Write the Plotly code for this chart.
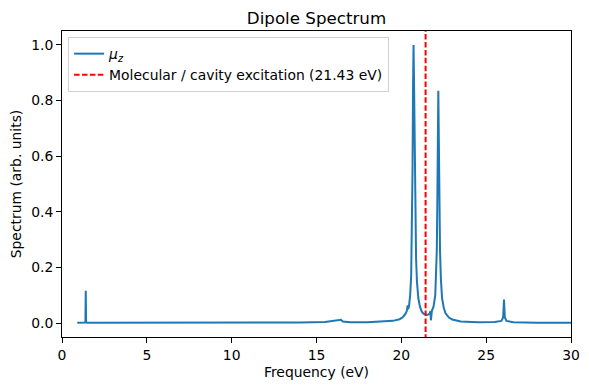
import plotly.graph_objects as go

freq_ev = [0.9, 1.3, 1.38, 1.40, 1.42, 1.5, 5, 10, 14, 15.5, 16.2, 16.44, 16.55, 17, 18, 19,
           19.5, 19.9, 20.1, 20.25, 20.33, 20.37, 20.40, 20.45, 20.52, 20.58, 20.62, 20.66,
           20.69, 20.72, 20.75, 20.78, 20.82, 20.87, 20.92, 21.0, 21.1, 21.2, 21.3, 21.4,
           21.5, 21.6, 21.68, 21.72, 21.74, 21.76, 21.8, 21.9, 22.0, 22.05, 22.09, 22.12,
           22.15, 22.18, 22.21, 22.24, 22.28, 22.33, 22.4, 22.5, 22.6, 22.8, 23.0, 23.5,
           24.5, 25.5, 25.9, 26.0, 26.05, 26.1, 26.2, 26.6, 28, 30]
spectrum = [0.001, 0.001, 0.002, 0.116, 0.003, 0.001, 0.001, 0.001, 0.002, 0.004, 0.008,
            0.012, 0.006, 0.003, 0.003, 0.005, 0.008, 0.014, 0.022, 0.034, 0.045, 0.064,
            0.05, 0.06, 0.10, 0.17, 0.30, 0.55, 0.85, 1.0, 0.86, 0.62, 0.40, 0.23, 0.15,
            0.09, 0.058, 0.042, 0.034, 0.030, 0.029, 0.031, 0.036, 0.043, 0.01, 0.02, 0.044,
            0.060, 0.10, 0.16, 0.26, 0.42, 0.65, 0.835, 0.66, 0.42, 0.26, 0.16, 0.09, 0.055,
            0.036, 0.02, 0.013, 0.006, 0.003, 0.004, 0.008, 0.02, 0.085, 0.02, 0.008, 0.003,
            0.001, 0.001]
excitation_ev = 21.43
x_ticks = [0, 5, 10, 15, 20, 25, 30]
y_ticks = [0.0, 0.2, 0.4, 0.6, 0.8, 1.0]

font = "DejaVu Sans"
fs = 13.9
fig = go.Figure()
fig.add_trace(go.Scatter(x=freq_ev, y=spectrum, mode="lines",
                         line=dict(color="#1f77b4", width=2),
                         name="<i>μ</i><sub><i>z</i></sub>"))
fig.add_trace(go.Scatter(x=[excitation_ev, excitation_ev], y=[-0.06, 1.06], mode="lines",
                         line=dict(color="red", width=2, dash="5.5px,2.4px"),
                         name=f"Molecular / cavity excitation ({excitation_ev:.2f} eV)"))

axis_common = dict(showline=True, linecolor="black", linewidth=1, mirror=True,
                   ticks="outside", ticklen=5, tickcolor="black", showgrid=False,
                   zeroline=False, automargin=False,
                   tickfont=dict(family=font, size=fs, color="black"))
# page body adds an 8px offset, so the figure is sized/margined to compensate
fig.update_layout(
    width=581, height=382,
    margin=dict(l=54, r=18, t=23, b=53, autoexpand=False),
    paper_bgcolor="white", plot_bgcolor="white",
    font=dict(family=font, size=fs, color="black"),
    title=dict(text="Dipole Spectrum", x=0.5, xanchor="center", xref="paper",
               y=0.973, yanchor="middle",
               font=dict(family=font, size=16.7, color="black")),
    xaxis=dict(range=[0, 30], tickvals=x_ticks, ticktext=[str(t) for t in x_ticks],
               title=dict(text="Frequency (eV)", font=dict(size=fs), standoff=5), **axis_common),
    yaxis=dict(range=[-0.05, 1.05], tickvals=y_ticks, ticktext=[f"{t:.1f}" for t in y_ticks],
               title=dict(text="Spectrum (arb. units)", font=dict(size=fs), standoff=7), **axis_common),
    legend=dict(x=0.012, y=0.98, xanchor="left", yanchor="top",
                bgcolor="rgba(255,255,255,0.8)", bordercolor="#d0d0d0", borderwidth=1,
                font=dict(family=font, size=fs), tracegroupgap=2),
    showlegend=True,
)
fig.write_html("out.html")
